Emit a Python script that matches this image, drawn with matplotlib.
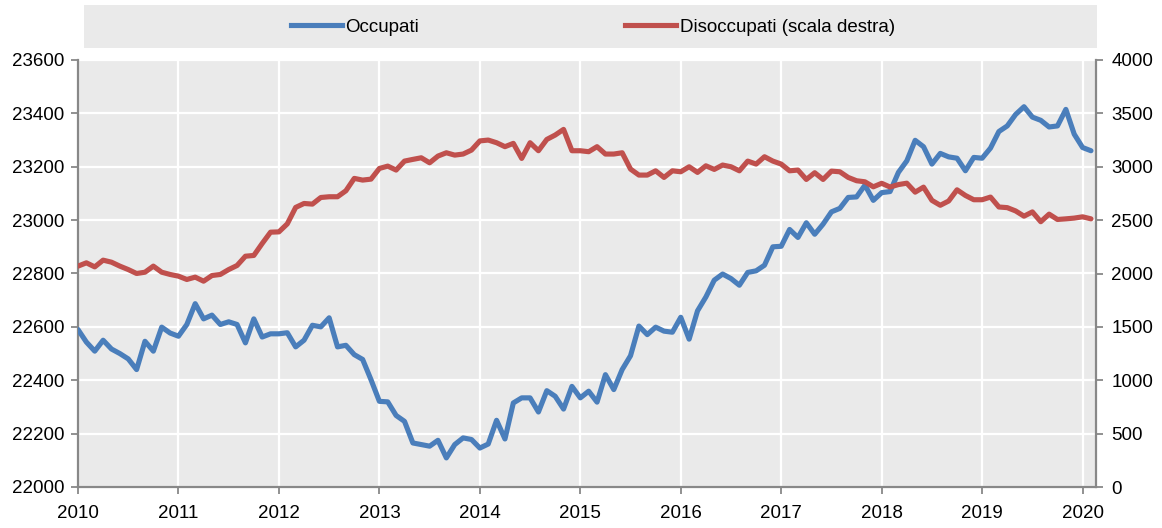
import numpy as np
import matplotlib
matplotlib.use("Agg")
import matplotlib.pyplot as plt
from matplotlib.patches import Rectangle
from matplotlib.lines import Line2D

plt.rcParams['font.family'] = ['Liberation Sans Narrow', 'Liberation Sans', 'DejaVu Sans']

years = [str(y) for y in range(2010, 2021)]

occupati = [
    22590, 22543, 22509, 22550, 22517, 22500, 22480, 22440, 22546, 22509, 22599, 22577,
    22565, 22609, 22687, 22630, 22644, 22609, 22619, 22609, 22540, 22630, 22562, 22574,
    22574, 22578, 22525, 22550, 22606, 22600, 22634, 22525, 22531, 22496, 22478, 22402,
    22321, 22319, 22268, 22246, 22165, 22159, 22153, 22175, 22109, 22159, 22184, 22178,
    22146, 22161, 22250, 22180, 22315, 22334, 22334, 22281, 22361, 22340, 22292, 22377,
    22334, 22359, 22318, 22421, 22365, 22440, 22492, 22603, 22571, 22599, 22584, 22580,
    22636, 22554, 22660, 22712, 22775, 22798, 22781, 22756, 22804, 22810, 22831, 22900,
    22902, 22965, 22935, 22990, 22947, 22985, 23031, 23044, 23085, 23087, 23131, 23074,
    23103, 23107, 23179, 23222, 23299, 23275, 23210, 23250, 23237, 23232, 23185, 23235,
    23232, 23270, 23332, 23353, 23396, 23425, 23386, 23374, 23349, 23353, 23415, 23322,
    23272, 23260,
]

disoccupati = [
    2069, 2100, 2062, 2125, 2106, 2069, 2037, 2000, 2012, 2069, 2012, 1991,
    1975, 1944, 1966, 1928, 1981, 1991, 2037, 2075, 2162, 2169, 2281, 2387,
    2390, 2465, 2619, 2656, 2650, 2712, 2719, 2719, 2775, 2891, 2875, 2884,
    2984, 3006, 2969, 3053, 3069, 3084, 3037, 3100, 3131, 3109, 3119, 3156,
    3242, 3250, 3225, 3188, 3219, 3078, 3225, 3150, 3256, 3297, 3350, 3150,
    3150, 3141, 3188, 3119, 3119, 3131, 2978, 2922, 2922, 2962, 2900, 2962,
    2953, 3000, 2947, 3009, 2975, 3016, 3000, 2962, 3053, 3025, 3094, 3053,
    3025, 2962, 2969, 2881, 2944, 2881, 2959, 2953, 2900, 2869, 2859, 2812,
    2845, 2810, 2833, 2846, 2762, 2809, 2685, 2639, 2679, 2784, 2731, 2691,
    2691, 2716, 2623, 2617, 2586, 2537, 2577, 2485, 2556, 2506, 2512, 2519,
    2531, 2512,
]

BLUE = '#4A7EBB'
RED = '#C0504D'
BG = '#EAEAEA'
SPINE = '#888888'

x = np.arange(len(occupati))

fig = plt.figure(figsize=(11.62, 5.28), dpi=100)
ax = fig.add_axes([78/1162, 1-487/528, (1096-78)/1162, (487-60)/528])
ax.set_facecolor(BG)
ax2 = ax.twinx()

ax.plot(x, occupati, color=BLUE, lw=3.7, solid_capstyle='round', solid_joinstyle='round', zorder=3)
ax2.plot(x, disoccupati, color=RED, lw=3.7, solid_capstyle='round', solid_joinstyle='round', zorder=3)

ax.set_xlim(0, 121.6)
ax.set_ylim(22000, 23600)
ax2.set_ylim(0, 4000)
ax.set_yticks(np.arange(22000, 23601, 200))
ax2.set_yticks(np.arange(0, 4001, 500))
ax.set_xticks(np.arange(0, 121, 12))
ax.set_xticklabels(years)

ax.grid(True, color='white', lw=1.6)
ax.set_axisbelow(True)

for a in (ax, ax2):
    for s in a.spines.values():
        s.set_visible(False)
ax.spines['left'].set_visible(True)
ax.spines['bottom'].set_visible(True)
ax2.spines['right'].set_visible(True)
for s in (ax.spines['left'], ax.spines['bottom'], ax2.spines['right']):
    s.set_color(SPINE)
    s.set_linewidth(1.6)

ax.tick_params(axis='y', direction='out', length=5, width=1.3, color=SPINE, labelsize=13.5, pad=5)
ax.tick_params(axis='x', direction='out', length=5, width=1.3, color=SPINE, labelsize=13.5, pad=8)
ax2.tick_params(axis='y', direction='out', length=5, width=1.3, color=SPINE, labelsize=13.5, pad=6)

# legend box
fig.patches.append(Rectangle((84/1162, 1-48/528), (1097-84)/1162, 43/528,
                             transform=fig.transFigure, facecolor=BG, edgecolor='none', zorder=0))
handles = [Line2D([], [], color=BLUE, lw=3.7), Line2D([], [], color=RED, lw=3.7)]
labels = ['Occupati', 'Disoccupati (scala destra)']
fig.legend(handles, labels, loc='center', bbox_to_anchor=(593/1162, 1-27/528), ncol=2,
           frameon=False, fontsize=13.5, handlelength=2.7, handletextpad=0.2, columnspacing=11.0)

fig.savefig('out.png', dpi=100)
